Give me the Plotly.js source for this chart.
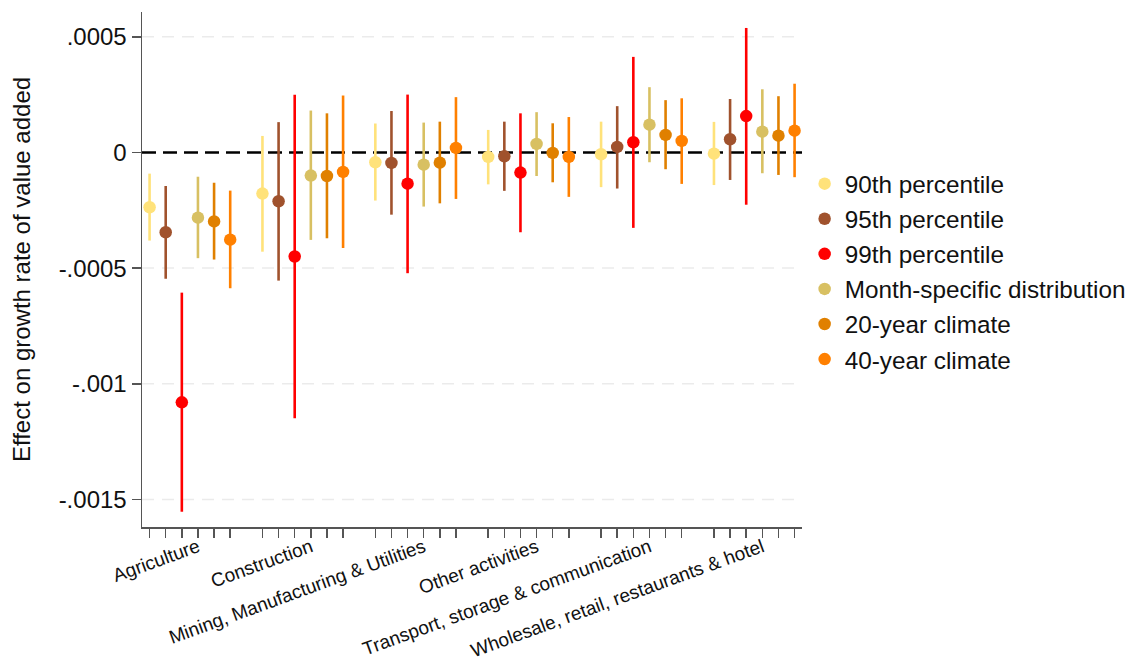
<!DOCTYPE html>
<html>
<head>
<meta charset="utf-8">
<script src="https://cdn.plot.ly/plotly-3.0.1.min.js"></script>
<style>html,body{margin:0;padding:0;background:#fff;}#chart{width:1134px;height:663px;}</style>
</head>
<body>
<div id="chart"></div>
<script>
const categories = ["Agriculture", "Construction", "Mining, Manufacturing & Utilities", "Other activities", "Transport, storage & communication", "Wholesale, retail, restaurants & hotel"];
const seriesNames = ["90th percentile", "95th percentile", "99th percentile", "Month-specific distribution", "20-year climate", "40-year climate"];
const seriesColors = ["#ffe27a", "#a0522d", "#ff0000", "#d8c062", "#e08000", "#ff8000"];

// point estimates, lower and upper bounds (one value per category)
const p90 = [-0.000237, -0.000178, -0.0000424, -0.0000195, -0.0000078, -0.0000052];
const lo90 = [-0.000381, -0.000429, -0.000208, -0.000138, -0.00015, -0.000141];
const hi90 = [-0.0000916, 0.0000713, 0.000125, 0.0000973, 0.000133, 0.000132];

const p95 = [-0.000345, -0.000211, -0.0000454, -0.0000166, 0.0000238, 0.0000571];
const lo95 = [-0.000546, -0.000554, -0.000269, -0.000166, -0.000156, -0.000119];
const hi95 = [-0.000145, 0.000131, 0.000179, 0.000133, 0.0002, 0.000231];

const p99 = [-0.00108, -0.00045, -0.000135, -0.0000872, 0.0000441, 0.000157];
const lo99 = [-0.001553, -0.001149, -0.000522, -0.000345, -0.000326, -0.000226];
const hi99 = [-0.000606, 0.000249, 0.00025, 0.000169, 0.000413, 0.000538];

const pMonth = [-0.000282, -0.0001, -0.0000527, 0.0000367, 0.00012, 0.0000899];
const loMonth = [-0.000457, -0.000378, -0.000234, -0.000102, -0.0000424, -0.0000899];
const hiMonth = [-0.000105, 0.000181, 0.000129, 0.000174, 0.000282, 0.000273];

const p20 = [-0.000298, -0.000102, -0.0000441, -0.0000022, 0.0000757, 0.0000726];
const lo20 = [-0.000463, -0.000371, -0.00022, -0.000129, -0.0000726, -0.0000973];
const hi20 = [-0.000131, 0.000169, 0.000133, 0.000126, 0.000226, 0.000243];

const p40 = [-0.000377, -0.0000843, 0.0000195, -0.0000195, 0.0000497, 0.0000942];
const lo40 = [-0.000587, -0.000413, -0.000201, -0.000192, -0.000136, -0.000107];
const hi40 = [-0.000165, 0.000246, 0.000239, 0.000153, 0.000234, 0.000297];

const yTickVals = [0.0005, 0, -0.0005, -0.001, -0.0015];
const yTickText = [".0005", "0", "-.0005", "-.001", "-.0015"];

const points = [p90, p95, p99, pMonth, p20, p40];
const lowers = [lo90, lo95, lo99, loMonth, lo20, lo40];
const uppers = [hi90, hi95, hi99, hiMonth, hi20, hi40];

const nS = seriesNames.length;
const step = nS + 1;
const FONT = "Arial, 'Liberation Sans', sans-serif";

const traces = [];
const allTicks = [];
for (let s = 0; s < nS; s++) {
  const xs = categories.map((c, g) => g * step + s);
  xs.forEach(v => allTicks.push(v));
  traces.push({
    type: "scatter", mode: "markers",
    name: seriesNames[s], legendgroup: "g" + s,
    x: xs, y: points[s],
    marker: {color: seriesColors[s], size: 12.5, line: {width: 0}},
    error_y: {
      type: "data", symmetric: false,
      array: points[s].map((v, i) => uppers[s][i] - v),
      arrayminus: points[s].map((v, i) => v - lowers[s][i]),
      color: seriesColors[s], thickness: 2.6, width: 0
    },
    hoverinfo: "skip"
  });
}
allTicks.sort((a, b) => a - b);
const catTicks = categories.map((c, g) => g * step + 3);
const xr = [-0.47, (categories.length * step - 2) + 0.46];

// grid lines (non-zero ticks) and dashed zero reference line
const shapes = yTickVals.filter(v => v !== 0).map(v => ({
  type: "line", xref: "paper", x0: 0, x1: 1, yref: "y", y0: v, y1: v,
  line: {color: "#ebebeb", width: 1.5, dash: "12px,8px"}, layer: "below"
}));
shapes.push({type: "line", xref: "paper", x0: 0, x1: 1, yref: "y", y0: 0, y1: 0,
  line: {color: "#000", width: 2.5, dash: "14px,7px"}, layer: "below"});

const layout = {
  width: 1134, height: 663,
  margin: {l: 142, r: 332, t: 12, b: 136, autoexpand: false},
  paper_bgcolor: "#fff", plot_bgcolor: "#fff",
  font: {family: FONT, color: "#111"},
  showlegend: true,
  legend: {x: 1.004, xanchor: "left", y: 0.71, yanchor: "top", font: {size: 24.3, family: FONT, color: "#111"}, tracegroupgap: 0.5, bgcolor: "rgba(0,0,0,0)"},
  xaxis: {
    range: xr, showgrid: false, zeroline: false,
    showline: true, linecolor: "#555", linewidth: 1.5,
    tickmode: "array", tickvals: allTicks, showticklabels: false,
    ticks: "outside", ticklen: 9, tickwidth: 1.5, tickcolor: "#555"
  },
  xaxis2: {
    overlaying: "x", side: "bottom", range: xr, showgrid: false, zeroline: false, showline: false,
    tickmode: "array", tickvals: catTicks, ticktext: categories, tickangle: -20,
    ticks: "outside", ticklen: 1, tickcolor: "rgba(0,0,0,0)",
    tickfont: {size: 19, family: FONT, color: "#111"}
  },
  yaxis: {
    range: [-0.001619, 0.000607],
    tickmode: "array", tickvals: yTickVals, ticktext: yTickText,
    tickfont: {size: 24, family: FONT, color: "#111"},
    ticks: "outside", ticklen: 9, tickwidth: 1.5, tickcolor: "#555",
    showline: true, linecolor: "#555", linewidth: 1.5,
    showgrid: false, zeroline: false,
    title: {text: "Effect on growth rate of value added", font: {size: 24, family: FONT, color: "#111"}, standoff: 21}
  },
  shapes: shapes
};

// dummy trace to activate xaxis2
traces.push({type: "scatter", x: [null], y: [null], xaxis: "x2", yaxis: "y", showlegend: false, hoverinfo: "skip"});

Plotly.newPlot("chart", traces, layout, {displayModeBar: false, staticPlot: true});
</script>
</body>
</html>
